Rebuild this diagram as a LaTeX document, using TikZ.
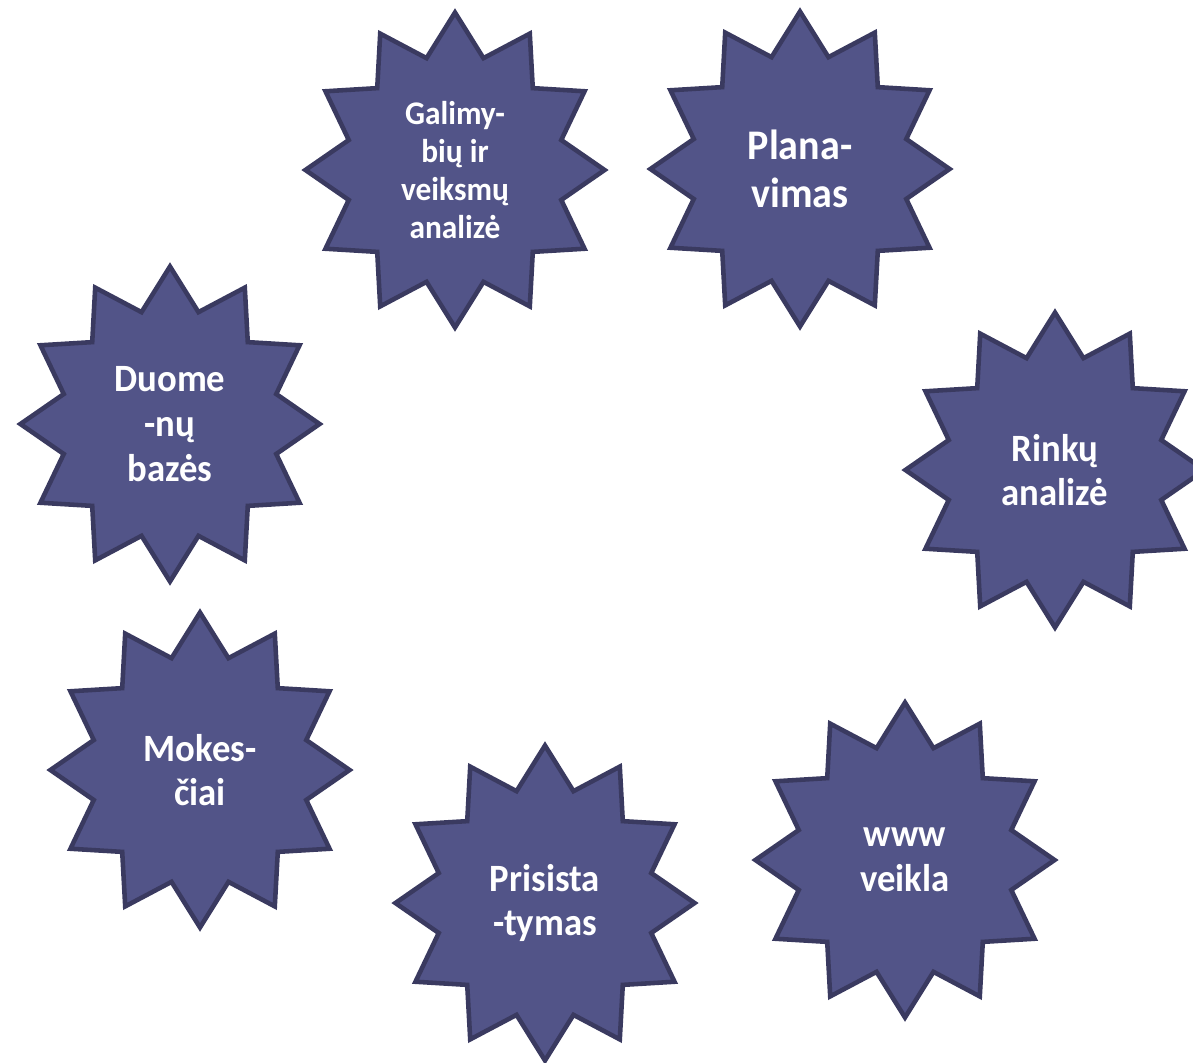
\documentclass[tikz,border=0pt]{standalone}
\usepackage{fontspec}
\setmainfont{Carlito}
\usepackage{tikz}
\usetikzlibrary{shapes.geometric}
\usepackage{xcolor}
\definecolor{burstfill}{RGB}{82,84,136}
\definecolor{burstline}{RGB}{58,58,96}

\begin{document}
\begin{tikzpicture}[x=0.02cm, y=-0.02cm,
  burst/.style={star, star points=12, star point ratio=1.36, minimum size=6.3cm,
    xscale=0.95, inner sep=0pt, fill=burstfill, draw=burstline, line width=2.6pt,
    line join=miter, text=white, align=center, font=\bfseries\fontsize{22}{25.5}\selectfont}]
  \useasboundingbox (0,0) rectangle (1193,1062);
  \node[burst, font=\bfseries\fontsize{18.8}{21.5}\selectfont] (galimybes) at (455,170) {Galimy-\\bių ir\\veiksmų\\analizė};
  \node[burst, font=\bfseries\fontsize{24}{27.2}\selectfont] (planavimas) at (800,169) {Plana-\\vimas};
  \node[burst] (rinkos) at (1055,470) {Rinkų\\analizė};
  \node[burst] (www) at (905,860) {www\\veikla};
  \node[burst] (prisistatymas) at (545,903) {Prisista\\-tymas};
  \node[burst] (mokesciai) at (200,770) {Mokes-\\čiai};
  \node[burst] (duomenys) at (170,424) {Duome\\-nų\\bazės};
\end{tikzpicture}
\end{document}
